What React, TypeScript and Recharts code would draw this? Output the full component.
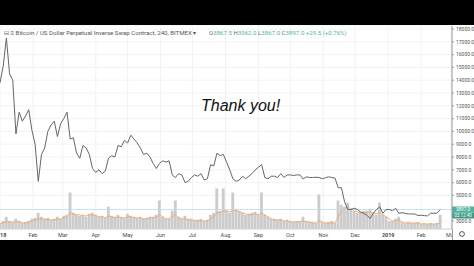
import { ComposedChart, Line, Bar, XAxis, YAxis, CartesianGrid, ReferenceLine } from 'recharts';

// 240-min XBTUSD, sampled every 3 days from 1 Jan 2018
const STEP_DAYS = 3;

const price = [
  13800, 15100, 17300, 14500, 14000, 9800, 11500, 10800, 11200, 11700,
  10100, 9000, 6100, 8200, 8700, 10000, 10500, 10800, 9600, 10600,
  11000, 11500, 9400, 9500, 8300, 7900, 8900, 8700, 8200, 7100,
  6800, 7000, 6700, 6900, 7900, 8100, 8000, 8900, 8800, 9300,
  9100, 9700, 9400, 9100, 8700, 8200, 8300, 8000, 7500, 7100,
  7500, 7700, 7600, 7700, 6600, 6400, 6700, 6600, 6000, 6100,
  6400, 6600, 6500, 6700, 6200, 6300, 7400, 7300, 8300, 8100,
  8200, 7600, 7000, 6300, 6100, 6200, 6500, 6300, 6500, 6700,
  7000, 7200, 7400, 6400, 6300, 6500, 6500, 6400, 6700, 6400,
  6600, 6600, 6550, 6600, 6600, 6280, 6450, 6400, 6400, 6420,
  6400, 6300, 6380, 6450, 6400, 6350, 5600, 5600, 4500, 3900,
  3900, 4000, 3900, 3700, 3600, 3450, 3200, 3600, 3900, 4100,
  3600, 3900, 3900, 3800, 4000, 3600, 3650, 3600, 3550, 3550,
  3550, 3430, 3450, 3420, 3400, 3620, 3600, 3620, 3897,
];

const volume = [
  3, 4, 6, 4, 3.5, 5, 4, 3, 3.5, 4,
  5, 5.5, 8, 6, 5, 5.5, 4.5, 5, 6, 5,
  6.5, 7, 18, 8, 7, 6.5, 7, 6, 7.5, 8,
  7, 6, 6.5, 5.5, 11, 6.5, 6, 7, 6, 5.5,
  7.5, 6.5, 6, 5.5, 6, 5, 5.5, 6, 6, 7,
  14, 6, 5, 5, 9, 14, 6, 5, 6.5, 5,
  5, 4.5, 4.5, 5, 4, 4.5, 7, 8, 20, 9,
  20, 9, 8, 18, 10, 9, 8, 7, 7.5, 8,
  8.5, 7, 18, 7, 6, 5, 5, 4.5, 5, 4,
  4.5, 4, 3.5, 4, 4, 6, 4, 3.5, 3.5, 3,
  17, 3.5, 3, 3.5, 4, 3, 14, 12, 11, 13,
  10, 9, 8, 8.5, 9, 9, 10, 8, 7, 13,
  7, 6, 4, 4, 5, 6, 3.5, 3, 3.5, 3,
  3, 3.5, 2.5, 3, 2.5, 3, 2.5, 3, 7,
];

const volumeMa = [
  2.5, 3, 3.5, 3.5, 3.5, 3.5, 3.5, 3, 3, 3.5,
  4, 4.5, 5, 5, 5, 4.5, 4.5, 4.5, 5, 5,
  5.5, 6, 8, 7.5, 7, 7, 6.5, 6.5, 7, 7,
  6.5, 6, 6, 5.5, 6.5, 6, 5.5, 6, 5.5, 5.5,
  6, 6, 5.5, 5.5, 5.5, 5, 5, 5.5, 5.5, 6,
  7, 6, 5, 5, 6, 7, 5.5, 5, 5, 4.5,
  4.5, 4, 4, 4, 4, 4, 5, 6, 8, 8,
  9, 9, 8.5, 9, 9, 8.5, 8, 7.5, 7, 7,
  7.5, 7, 8, 7, 6, 5, 4.5, 4.5, 4.5, 4,
  4, 3.5, 3.5, 3.5, 3.5, 4, 3.5, 3.5, 3, 3,
  4, 3.5, 3, 3, 3, 3, 6, 9, 10, 11,
  10, 9, 8.5, 8, 8, 8, 8.5, 8, 7.5, 8,
  7, 6, 5, 4, 4, 4.5, 3.5, 3, 3, 3,
  3, 3, 2.5, 2.5, 2.5, 2.5, 2.5, 2.5, 3,
];

const monthTicks = [0, 31, 59, 90, 120, 151, 181, 212, 243, 273, 304, 334, 365, 396, 424];
const monthLabels = ['2018', 'Feb', 'Mar', 'Apr', 'May', 'Jun', 'Jul', 'Aug', 'Sep', 'Oct', 'Nov', 'Dec', '2019', 'Feb', 'Mar'];
// 4000.0 sits under the last-price badge in the reference
const priceTicks = [3000, 5000, 6000, 7000, 8000, 9000, 10000, 11000, 12000, 13000, 14000, 15000, 16000, 17000, 18000];

const lastPrice = 3897.0;
const lastTime = '03:12:40';

const data = price.map((p, i) => ({
  day: i * STEP_DAYS,
  price: p,
  volume: volume[i],
  volumeMa: volumeMa[i],
}));

const FONT = 'Roboto, "Open Sans", sans-serif';

const MonthTick = (props: any) => {
  const { x, y, payload, index } = props;
  const label = monthLabels[monthTicks.indexOf(payload.value)] ?? '';
  const isYear = /^\d{4}$/.test(label);
  return (
    <g>
      <clipPath id={`xt-${index}`}>
        <rect x={0} y={y} width={452} height={12} />
      </clipPath>
      <text
        x={x}
        y={y + 7.5}
        textAnchor="middle"
        fontSize={5.5}
        fontFamily={FONT}
        fontWeight={isYear ? 700 : 400}
        fill="#4a4a4a"
        clipPath={`url(#xt-${index})`}
      >
        {label}
      </text>
    </g>
  );
};

const PriceBadge = (props: any) => {
  const vb = props.viewBox || {};
  const x0 = (vb.x ?? 0) + (vb.width ?? 0);
  const y0 = vb.y ?? 0;
  return (
    <g>
      <rect x={x0} y={y0 - 3} width={22} height={6} fill="#4fb39c" />
      <text x={x0 + 11} y={y0 + 1.7} textAnchor="middle" fontSize={4.6} fontFamily={FONT} fill="#fff">
        {lastPrice.toFixed(1)}
      </text>
      <rect x={x0} y={y0 + 3} width={22} height={6} fill="#3e9986" />
      <text x={x0 + 11} y={y0 + 7.7} textAnchor="middle" fontSize={4.6} fontFamily={FONT} fill="#fff">
        {lastTime}
      </text>
    </g>
  );
};

export default function App() {
  return (
    <div style={{ position: 'fixed', left: 0, top: 0, width: 474, height: 266, background: '#000', overflow: 'hidden' }}>
      <div style={{ position: 'absolute', left: 0, top: 25, width: 474, height: 215, background: '#fff' }}>
        <ComposedChart
          width={474}
          height={215}
          data={data}
          margin={{ top: 1, right: 0, bottom: 0, left: 0 }}
        >
          <CartesianGrid stroke="#eef0f3" strokeWidth={0.8} />
          <XAxis
            dataKey="day"
            type="number"
            domain={[0, 425]}
            ticks={monthTicks}
            tick={<MonthTick />}
            tickLine={false}
            tickSize={0}
            tickMargin={0}
            axisLine={{ stroke: '#d4d4d4' }}
            height={11}
            interval={0}
            allowDataOverflow
          />
          <YAxis
            orientation="right"
            domain={[2375, 18234]}
            ticks={priceTicks}
            tickFormatter={(v: number) => v.toFixed(1)}
            tick={{ fontSize: 5, fill: '#555', fontFamily: FONT }}
            tickSize={2}
            tickLine={{ stroke: '#999' }}
            axisLine={{ stroke: '#9a9a9a' }}
            width={22}
            interval={0}
            allowDataOverflow
          />
          <YAxis yAxisId="vol" hide domain={[0, 100]} />
          <Bar yAxisId="vol" dataKey="volume" fill="#cccccc" barSize={3.3} isAnimationActive={false} />
          <Line
            yAxisId="vol"
            dataKey="volumeMa"
            type="linear"
            stroke="#f4a55e"
            strokeWidth={0.8}
            dot={false}
            isAnimationActive={false}
          />
          <ReferenceLine y={lastPrice} stroke="#bcd9ea" strokeWidth={0.8} label={(p: any) => <PriceBadge {...p} />} />
          <Line
            dataKey="price"
            type="linear"
            stroke="#666666"
            strokeWidth={1}
            dot={false}
            isAnimationActive={false}
          />
        </ComposedChart>

        <div
          style={{
            position: 'absolute', left: 4, top: 4, fontSize: 6.1, lineHeight: '7px',
            fontFamily: FONT, color: '#555', whiteSpace: 'nowrap',
          }}
        >
          ⊟ ≡ Bitcoin / US Dollar Perpetual Inverse Swap Contract, 240, BITMEX ▾
        </div>
        <div
          style={{
            position: 'absolute', left: 209, top: 4, fontSize: 6.1, lineHeight: '7px',
            fontFamily: FONT, color: '#53b987', whiteSpace: 'nowrap',
          }}
        >
          <span style={{ color: '#666' }}>O</span>3867.5 <span style={{ color: '#666' }}>H</span>3962.0{' '}
          <span style={{ color: '#666' }}>L</span>3867.0 <span style={{ color: '#666' }}>C</span>3897.0 +29.5 (+0.76%)
        </div>
        <div
          style={{
            position: 'absolute', left: 201, top: 72.5, fontSize: 16, lineHeight: '16px',
            fontFamily: '"Liberation Sans", Arial, sans-serif', fontStyle: 'italic', color: '#111', whiteSpace: 'nowrap',
          }}
        >
          Thank you!
        </div>
        <div style={{ position: 'absolute', left: 452, top: 204, width: 1, height: 11, background: '#9a9a9a' }} />
        <svg style={{ position: 'absolute', left: 458, top: 205 }} width={8} height={8}>
          <circle cx={4} cy={4} r={2.4} fill="none" stroke="#555" strokeWidth={1} />
        </svg>
      </div>
    </div>
  );
}
